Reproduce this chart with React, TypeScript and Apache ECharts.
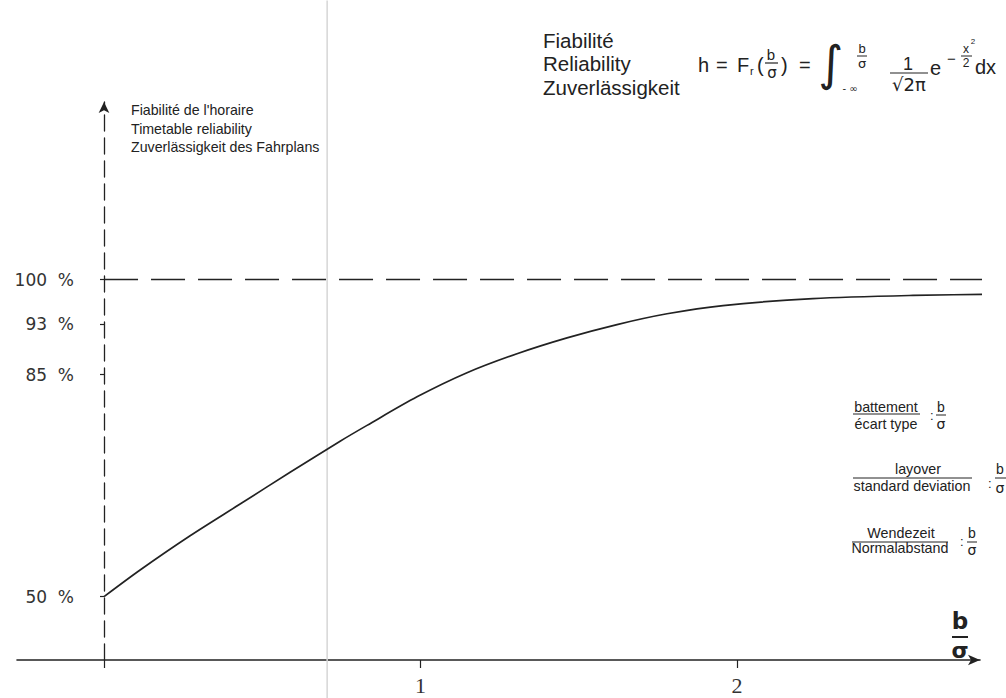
import React, { useEffect, useRef } from "react";
import * as echarts from "echarts";

// b/σ values and reliability (%)
const curveX = [0, 0.114, 0.272, 0.43, 0.588, 0.746, 0.831, 0.989, 1.147, 1.305, 1.463, 1.621, 1.779, 1.956, 2.24, 2.556, 2.85];
const curveY = [50, 54.2, 59.6, 64.6, 69.6, 74.5, 77.0, 81.5, 85.3, 88.3, 90.8, 92.9, 94.6, 95.9, 97.0, 97.5, 97.7];
const yTickValues = [50, 85, 93, 100];
const xTickValues = [0, 1, 2];
const xLabelValues = [1, 2];
const asymptoteX = [0, 2.85];
const asymptoteY = [100, 100];
const foldX = [0.705, 0.705];
const foldY = [34, 144];

const SANS = '"Liberation Sans", Arial, sans-serif';
const DJ = '"DejaVu Sans", sans-serif';
const INK = "#222";

function txt(text: string, x: number, y: number, size: number, align = "left", family = SANS, weight = "normal") {
  return {
    type: "text",
    silent: true,
    style: {
      text, x, y,
      fontSize: size, fontFamily: family, fontWeight: weight,
      fill: INK,
      align, verticalAlign: "middle",
      textAlign: align, textVerticalAlign: "middle",
    },
  };
}
function bar(x1: number, x2: number, y: number, w = 1) {
  return { type: "line", silent: true, shape: { x1, y1: y, x2, y2: y }, style: { stroke: INK, lineWidth: w } };
}

export default function App() {
  const ref = useRef<HTMLDivElement>(null);
  useEffect(() => {
    if (!ref.current) return;
    const chart = echarts.init(ref.current, undefined, { renderer: "svg" });
    const zip = (a: number[], b: number[]) => a.map((v, i) => [v, b[i]]);
    chart.setOption({
      animation: false,
      backgroundColor: "#fff",
      grid: { left: 17, right: 26, top: 102, bottom: 38, containLabel: false, outerBoundsMode: "none" },
      xAxis: {
        type: "value",
        min: -0.275,
        max: 2.768,
        splitLine: { show: false },
        axisLine: {
          onZero: false,
          symbol: ["none", "arrow"],
          symbolSize: [8, 12],
          lineStyle: { color: INK, width: 1.6 },
        },
        axisTick: { customValues: xTickValues, length: 8, lineStyle: { color: INK, width: 1.2 } },
        axisLabel: {
          customValues: xLabelValues,
          margin: 14,
          fontFamily: '"Liberation Serif", serif',
          fontSize: 22,
          color: "#333",
        },
      },
      yAxis: {
        type: "value",
        min: 40,
        max: 128,
        offset: -87,
        splitLine: { show: false },
        axisLine: {
          onZero: false,
          symbol: ["none", "arrow"],
          symbolSize: [8, 11],
          lineStyle: { color: INK, width: 1.3, type: [16, 7] },
        },
        axisTick: { customValues: yTickValues, length: 4, lineStyle: { color: INK, width: 1.2 } },
        axisLabel: {
          customValues: yTickValues,
          margin: 30,
          fontFamily: DJ,
          fontSize: 17,
          color: "#333",
          formatter: (v: number) => `${v}  %`,
        },
      },
      series: [
        {
          type: "line",
          data: zip(foldX, foldY),
          clip: false,
          symbol: "none",
          silent: true,
          lineStyle: { color: "#d6d6d6", width: 1.5 },
          z: 1,
        },
        {
          type: "line",
          data: zip(asymptoteX, asymptoteY),
          clip: false,
          symbol: "none",
          silent: true,
          lineStyle: { color: INK, width: 1.5, type: [34, 13] },
        },
        {
          type: "line",
          data: zip(curveX, curveY),
          clip: false,
          smooth: 0.3,
          symbol: "none",
          silent: true,
          lineStyle: { color: INK, width: 1.7 },
        },
      ],
      graphic: [
        // y axis title
        txt("Fiabilité de l'horaire", 131, 110, 14.2),
        txt("Timetable reliability", 131, 128.5, 14.2),
        txt("Zuverlässigkeit des Fahrplans", 131, 147, 14.2),
        // title block
        txt("Fiabilité", 543, 40, 20.5),
        txt("Reliability", 543, 63, 20.5),
        txt("Zuverlässigkeit", 543, 87, 20.5),
        // formula
        txt("h", 698, 65, 20),
        txt("=", 716, 65, 20),
        txt("F", 737, 65, 20),
        txt("r", 750, 71, 11),
        txt("(", 757, 65, 20),
        txt("b", 771, 54, 15, "center"),
        bar(765, 778, 63, 1.2),
        txt("σ", 772, 73, 15, "center", DJ),
        txt(")", 781, 65, 20),
        txt("=", 799, 65, 20),
        txt("∫", 831, 63, 48, "center", DJ),
        txt("- ∞", 850, 88, 10, "center", DJ),
        txt("b", 862, 48, 13, "center"),
        bar(857, 867, 56, 1),
        txt("σ", 862, 63, 13, "center", DJ),
        txt("1", 908, 64, 18, "center"),
        bar(890, 928, 73, 1.2),
        txt("√2π", 909, 84, 18, "center", DJ),
        txt("e", 930, 68, 20),
        txt("−", 947, 58, 15),
        txt("x", 966, 49, 12, "center"),
        txt("2", 973, 41, 8, "center"),
        bar(961, 972, 56, 1),
        txt("2", 966, 63, 12, "center"),
        txt("dx", 975, 67, 20),
        // right annotations
        txt("battement", 886, 407, 14.3, "center"),
        bar(853, 920, 414, 1),
        txt("écart type", 886, 424, 14.3, "center"),
        txt(":", 930, 415, 13),
        txt("b", 941, 407, 14, "center"),
        bar(936, 946, 415, 1),
        txt("σ", 941, 424, 14, "center", DJ),

        txt("layover", 918, 469, 14.3, "center"),
        bar(853, 972, 478, 1),
        txt("standard deviation", 912, 486, 14.3, "center"),
        txt(":", 988, 483, 13),
        txt("b", 1000, 469, 14, "center"),
        bar(995, 1006, 478, 1),
        txt("σ", 1000, 488, 14, "center", DJ),

        txt("Wendezeit", 901, 533, 14.3, "center"),
        bar(852, 948, 542, 1),
        txt("Normalabstand", 900, 548, 14.3, "center"),
        txt(":", 960, 541, 13),
        txt("b", 972, 533, 14, "center"),
        bar(967, 977, 542, 1),
        txt("σ", 972, 550, 14, "center", DJ),

        // x axis name
        txt("b", 960, 621, 23, "center", DJ, "bold"),
        bar(952, 968, 637, 2),
        txt("σ", 960, 650, 22, "center", DJ, "bold"),
      ],
    });
    return () => chart.dispose();
  }, []);
  return <div ref={ref} style={{ position: "fixed", left: 0, top: 0, width: 1006, height: 698, background: "#fff" }} />;
}
